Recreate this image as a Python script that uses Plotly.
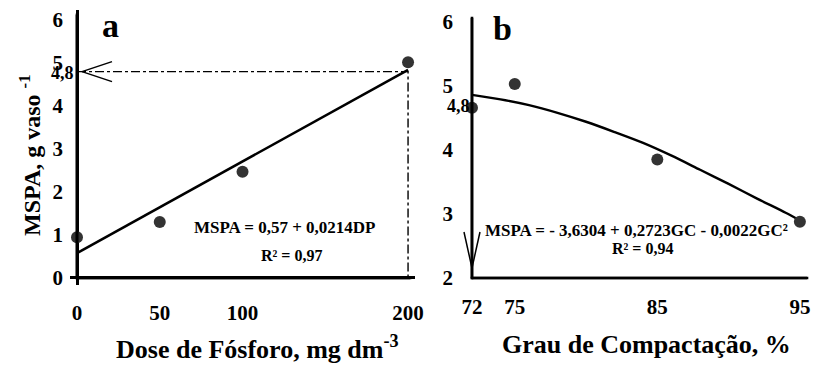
import plotly.graph_objects as go

# ---------------- data ----------------
# Panel a: dose de fósforo
dose_p = [0, 50, 100, 200]
mspa_a = [0.95, 1.30, 2.47, 5.02]
fit_a_x = [0, 200]
fit_a_y = [0.58, 4.84]
ref_a_dose = 200
ref_a_val = 4.8
xticks_a = [0, 50, 100, 200]
yticks_a = [0, 1, 2, 3, 4, 5, 6]
x_axis_end_a = 201.2
y_axis_end_a = 6.12

# Panel b: grau de compactação
gc = [72, 75, 85, 95]
mspa_b = [4.66, 5.03, 3.85, 2.88]
fit_b_x = [72, 74, 76, 78, 80, 82, 84, 86, 88, 90, 92, 94, 95]
fit_b_y = [4.86, 4.79, 4.70, 4.58, 4.44, 4.28, 4.11, 3.91, 3.69, 3.47, 3.24, 3.02, 2.90]
xticks_b = [72, 75, 85, 95]
yticks_b = [2, 3, 4, 5, 6]
x_axis_end_b = 95.5
y_axis_end_b = 6.06
ref_b_label_val = 4.68
ref_label = "4,8"

eq_a = "MSPA = 0,57 + 0,0214DP"
r2_a = "R² = 0,97"
eq_b = "MSPA = - 3,6304 + 0,2723GC - 0,0022GC²"
r2_b = "R² = 0,94"

FONT = "Liberation Serif"
W, H = 817, 368


def px(x):
    return x / W


def py(y):
    return 1 - y / H


AX = {
    "x": dict(domain=[px(70), px(415)], range=[-4.23, 204.2]),
    "y": dict(domain=[py(285), py(10)], range=[-0.163, 6.233]),
    "x2": dict(domain=[px(462), px(812)], range=[71.30, 95.85]),
    "y2": dict(domain=[py(285), py(12)], range=[1.891, 6.154]),
}


def to_paper(ax, v):
    d0, d1 = AX[ax]["domain"]
    r0, r1 = AX[ax]["range"]
    return d0 + (v - r0) / (r1 - r0) * (d1 - d0)


fig = go.Figure()

marker = dict(size=12, color="#333333")


def line_trace(x, y, xa, ya, line):
    return go.Scatter(x=x, y=y, mode="lines", line=line, xaxis=xa, yaxis=ya, showlegend=False)


# panel a
fig.add_trace(line_trace([0, ref_a_dose, ref_a_dose], [ref_a_val, ref_a_val, 0], "x", "y",
                         dict(color="black", width=1.4, dash="dashdot")))
fig.add_trace(line_trace(fit_a_x, fit_a_y, "x", "y", dict(color="black", width=2.6)))
fig.add_trace(go.Scatter(x=dose_p, y=mspa_a, mode="markers", marker=marker, cliponaxis=False,
                         xaxis="x", yaxis="y", showlegend=False))

# panel b
fig.add_trace(line_trace(fit_b_x, fit_b_y, "x2", "y2",
                         dict(color="black", width=2.4, shape="spline", smoothing=0.8)))
fig.add_trace(go.Scatter(x=gc, y=mspa_b, mode="markers", marker=marker, cliponaxis=False,
                         xaxis="x2", yaxis="y2", showlegend=False))

# axis lines as traces, added last
axis_line = dict(color="#000000", width=2.6)
fig.add_trace(line_trace([0, 0], [y_axis_end_a, 0], "x", "y", axis_line))
fig.add_trace(line_trace([0, x_axis_end_a], [0, 0], "x", "y", axis_line))
fig.add_trace(line_trace([xticks_b[0], xticks_b[0]], [y_axis_end_b, yticks_b[0]], "x2", "y2", axis_line))
fig.add_trace(line_trace([xticks_b[0], x_axis_end_b], [yticks_b[0], yticks_b[0]], "x2", "y2", axis_line))

tickfont = dict(family=FONT, size=21, color="black", weight="bold")
axis_common = dict(showgrid=False, showline=False, ticks="", tickfont=tickfont,
                   fixedrange=True, automargin=False)

fig.update_layout(
    width=W, height=H, margin=dict(l=0, r=0, t=0, b=0),
    paper_bgcolor="white", plot_bgcolor="rgba(0,0,0,0)",
    xaxis=dict(tickvals=xticks_a, ticklabelstandoff=13, anchor="y", zeroline=True,
               zerolinecolor="black", zerolinewidth=2.6, **AX["x"], **axis_common),
    yaxis=dict(tickvals=yticks_a, ticklabelstandoff=6, anchor="x", zeroline=True,
               zerolinecolor="black", zerolinewidth=2.6, **AX["y"], **axis_common),
    xaxis2=dict(tickvals=xticks_b, ticklabelstandoff=7, anchor="y2", zeroline=False,
                **AX["x2"], **axis_common),
    yaxis2=dict(tickvals=yticks_b, ticklabelstandoff=8, anchor="x2", zeroline=False,
                **AX["y2"], **axis_common),
)

# axis lines once more as thin filled rectangles in paper space (from the axis mapping)
hw_x = 1.3 / W
hw_y = 1.3 / H
for xa, ya, x0v, x1v, y0v, y1v in [
    ("x", "y", 0, 0, 0, y_axis_end_a),
    ("x", "y", 0, x_axis_end_a, 0, 0),
    ("x2", "y2", xticks_b[0], xticks_b[0], yticks_b[0], y_axis_end_b),
    ("x2", "y2", xticks_b[0], x_axis_end_b, yticks_b[0], yticks_b[0]),
]:
    fig.add_shape(type="rect", xref="paper", yref="paper", layer="above",
                  x0=to_paper(xa, x0v) - hw_x, x1=to_paper(xa, x1v) + hw_x,
                  y0=to_paper(ya, y0v) - hw_y, y1=to_paper(ya, y1v) + hw_y,
                  fillcolor="black", line=dict(width=0))

# arrowheads
for s in (1, -1):
    fig.add_shape(type="line", xref="x", yref="y", xsizemode="pixel", ysizemode="pixel",
                  xanchor=0, yanchor=ref_a_val, x0=5, y0=0, x1=35, y1=10 * s,
                  line=dict(color="black", width=1.5))
    fig.add_shape(type="line", xref="x2", yref="y2", xsizemode="pixel", ysizemode="pixel",
                  xanchor=xticks_b[0], yanchor=yticks_b[0], x0=0, y0=10, x1=8 * s, y1=46,
                  line=dict(color="black", width=1.5))

ann = []


def A(text, x, y, size, **kw):
    d = dict(text=text, x=px(x), y=py(y), xref="paper", yref="paper", showarrow=False,
             font=dict(family=FONT, size=size, color="black", weight="bold"),
             xanchor="center", yanchor="middle")
    d.update(kw)
    ann.append(d)


# 4,8 labels
ann.append(dict(text=ref_label, x=0, y=ref_a_val, xref="x", yref="y", showarrow=False,
                xanchor="right", yanchor="middle", xshift=-1, yshift=-1,
                font=dict(family=FONT, size=18, color="black", weight="bold")))
ann.append(dict(text=ref_label, x=xticks_b[0], y=ref_b_label_val, xref="x2", yref="y2", showarrow=False,
                xanchor="right", yanchor="middle", xshift=0,
                font=dict(family=FONT, size=18, color="black", weight="bold")))

A("a", 110, 25, 34)
A("b", 502, 28, 34)
A(eq_a, 285, 227, 17)
A(r2_a, 291, 255, 16)
A(eq_b, 636, 230, 17)
A(r2_b, 642, 249, 16)
A("Dose de Fósforo, mg dm<sup>-3</sup>", 257, 347, 26)
A("Grau de Compactação, %", 646, 344, 26)
A("MSPA, g vaso <sup>-1</sup>", 30, 155, 24, textangle=-90)

fig.update_layout(annotations=ann)

fig.write_html("out.html")
